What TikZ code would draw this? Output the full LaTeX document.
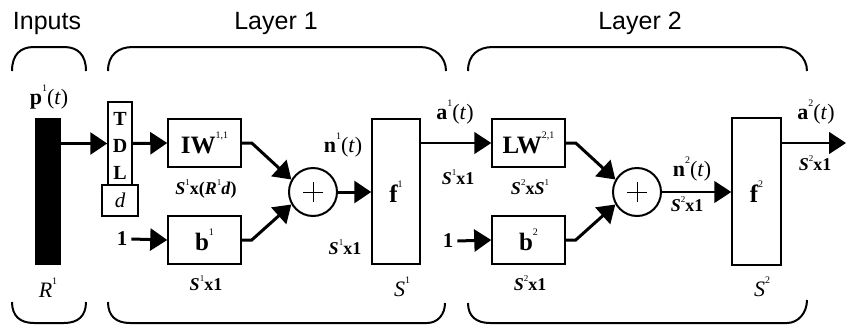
\documentclass[tikz,border=0pt]{standalone}
\usepackage{fontspec}
\setmainfont{Liberation Serif}
\newfontfamily\labsans{Liberation Sans}
\usetikzlibrary{arrows.meta}
\newcommand\supr[1]{\raisebox{0.6em}{\fontsize{10}{10}\selectfont\mdseries\upshape #1}}
\newcommand\supd[1]{\raisebox{0.5em}{\fontsize{9}{9}\selectfont\mdseries\upshape #1}}
\begin{document}
\begin{tikzpicture}[x=1pt,y=-1pt,
  box/.style={draw, line width=1.5pt, inner sep=0pt, font=\bfseries\fontsize{25}{25}\selectfont},
  thk/.style={line width=3pt, -{Triangle[length=17pt,width=22pt]}},
  thn/.style={line width=1.5pt, -{Triangle[length=17pt,width=22pt]}},
  brk/.style={line width=2pt},
  ttl/.style={font=\labsans\fontsize{25}{28}\selectfont, anchor=base, inner sep=0pt},
  dl/.style={font=\bfseries\fontsize{18}{18}\selectfont, inner sep=0pt},
  sig/.style={font=\fontsize{22}{22}\selectfont, inner sep=0pt},
  tl/.style={font=\bfseries\fontsize{20}{20}\selectfont, inner sep=0pt},
  sumnode/.style={circle, draw, line width=2pt, minimum size=48pt, inner sep=0pt}
]
\useasboundingbox (0,0) rectangle (846,325);

% titles
\node[ttl] (tin) at (47,29) {Inputs};
\node[ttl] (tl1) at (276,29) {Layer 1};
\node[ttl] (tl2) at (640,29) {Layer 2};

% brackets
\draw[brk] (12,71) .. controls (12,55) and (20,47) .. (34,47) -- (64,47) .. controls (78,47) and (86,55) .. (86,71);
\draw[brk] (108,71) .. controls (108,55) and (118,47) .. (133,47) -- (420,47) .. controls (435,47) and (446,57) .. (446,71);
\draw[brk] (468,71) .. controls (468,55) and (478,47) .. (493,47) -- (780,47) .. controls (795,47) and (807,57) .. (807,71);
\draw[brk] (12,302) .. controls (12,316) and (20,323) .. (34,323) -- (64,323) .. controls (78,323) and (86,316) .. (86,302);
\draw[brk] (108,302) .. controls (108,316) and (116,323) .. (130,323) -- (427,323) .. controls (438,323) and (445,314) .. (445,303);
\draw[brk] (468,303) .. controls (468,316) and (476,323) .. (490,323) -- (787,323) .. controls (798,323) and (807,313) .. (807,300);

% input bar
\node[fill=black, minimum width=26pt, minimum height=147pt, inner sep=0pt] (bar) at (48,191.5) {};
\node[sig] (plab) at (49,97) {\textbf{p}\supr{1}(\textit{t})};
\node[sig] (rlab) at (48,288) {\textit{R}\supr{1}};

% TDL
\node[box, minimum width=24pt, minimum height=83pt] (tdl) at (120,143.5) {};
\node[tl] (tT) at (120,119) {T};
\node[tl] (tD) at (120,146) {D};
\node[tl] (tL) at (120,173) {L};
\node[box, minimum width=36pt, minimum height=31pt, font=\itshape\fontsize{21}{21}\selectfont] (dbox) at (120,200.5) {d};

% layer 1
\node[box, minimum width=73pt, minimum height=48pt] (iw) at (204.5,143) {IW\supr{1,1}};
\node[box, minimum width=73pt, minimum height=48pt] (b1) at (204.5,240) {b\supr{1}};
\node[tl, font=\bfseries\fontsize{21}{21}\selectfont] (one1) at (122,239) {1};
\node[sumnode] (sum1) at (313,192) {};
\draw[line width=1pt] ([xshift=-10pt]sum1.center) -- ([xshift=10pt]sum1.center) ([yshift=-10pt]sum1.center) -- ([yshift=10pt]sum1.center);
\node[box, minimum width=48pt, minimum height=145pt] (f1) at (396,191.5) {f\supr{1}};

\node[dl] (d1) at (206,189) {\textit{S}\supd{1}x(\textit{R}\supd{1}\textit{d})};
\node[dl] (d2) at (206,283) {\textit{S}\supd{1}x1};
\node[sig] (n1) at (343,145) {\textbf{n}\supr{1}(\textit{t})};
\node[dl] (d3) at (345,247) {\textit{S}\supd{1}x1};
\node[sig] (s1) at (402,287) {\textit{S}\supr{1}};

% layer 2
\node[sig] (a1) at (455,112) {\textbf{a}\supr{1}(\textit{t})};
\node[dl] (d4) at (458,177) {\textit{S}\supd{1}x1};
\node[box, minimum width=73pt, minimum height=48pt] (lw) at (528.5,143) {LW\supr{2,1}};
\node[box, minimum width=73pt, minimum height=48pt] (b2) at (528.5,240) {b\supr{2}};
\node[tl, font=\bfseries\fontsize{21}{21}\selectfont] (one2) at (448,241) {1};
\node[dl] (d5) at (530,187) {\textit{S}\supd{2}x\textit{S}\supd{1}};
\node[dl] (d6) at (530,283) {\textit{S}\supd{2}x1};
\node[sumnode] (sum2) at (637,192) {};
\draw[line width=1pt] ([xshift=-10pt]sum2.center) -- ([xshift=10pt]sum2.center) ([yshift=-10pt]sum2.center) -- ([yshift=10pt]sum2.center);
\node[sig] (n2) at (692,169) {\textbf{n}\supr{2}(\textit{t})};
\node[dl] (d7) at (687,204) {\textit{S}\supd{2}x1};
\node[box, minimum width=49pt, minimum height=147pt] (f2) at (756.5,191.5) {f\supr{2}};
\node[sig] (s2) at (762,287) {\textit{S}\supr{2}};
\node[sig] (a2) at (816,112) {\textbf{a}\supr{2}(\textit{t})};
\node[dl] (d8) at (815,163) {\textit{S}\supd{2}x1};
\coordinate (out) at (846,143);

% connectors
\draw[thk] (bar.east |- tdl.west) -- (tdl.west);
\draw[thk] (tdl.east) -- (iw.west);
\draw[thk] (one1.east) ++(4pt,0) -- (b1.west);
\draw[thk] (iw.east) -- ++(10,0) -- (sum1.150);
\draw[thk] (b1.east) -- ++(10,0) -- (sum1.210);
\draw[thk] (sum1.east) -- (f1.west |- sum1.east);
\draw[thn] (f1.east |- lw.west) -- (lw.west);
\draw[thk] (one2.east) ++(4pt,0) -- (b2.west);
\draw[thk] (lw.east) -- ++(10,0) -- (sum2.150);
\draw[thk] (b2.east) -- ++(10,0) -- (sum2.210);
\draw[thn] (sum2.east) -- (f2.west |- sum2.east);
\draw[thn] (f2.east |- out) -- (out);
\end{tikzpicture}
\end{document}
